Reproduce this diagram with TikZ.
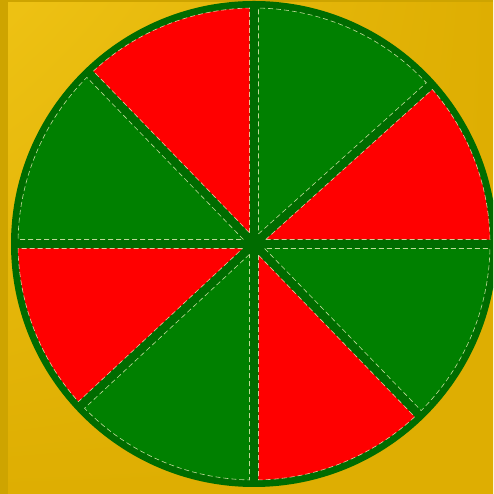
\documentclass[tikz,border=0pt]{standalone}
\usetikzlibrary{shadings}
\definecolor{goldlight}{RGB}{238,194,20}
\definecolor{golddeep}{RGB}{222,174,2}
\definecolor{goldedge}{RGB}{206,164,0}
\definecolor{ringgreen}{RGB}{0,108,0}
\definecolor{wedgegreen}{RGB}{0,128,0}
\definecolor{wedgered}{RGB}{255,0,0}
\tikzset{
  wedge/.style={fill=#1, draw=white!80!yellow, draw opacity=0.75, line width=0.6pt, dash pattern=on 5pt off 3pt}
}
\begin{document}
\begin{tikzpicture}[x=1pt, y=1pt]

        \useasboundingbox (0,0) rectangle (493,494);
        \clip (0,0) rectangle (493,494);

        % === Background ===
        \shade[upper left=goldlight, upper right=golddeep, lower left=golddeep, lower right=golddeep]
            (0,0) rectangle (493,494);
        \fill[goldedge] (0,0) rectangle (8,494);
        \fill[goldedge] (8,492) rectangle (493,494);

        % === Wheel, centre at (254,250) ===
        \begin{scope}[shift={(254,250)}]
            % dark green disk: rim and spokes
            \fill[ringgreen] (0,0) circle (243);

            % eight wedges, inset by half a spoke (4.5) from the spokes and the rim
            \foreach \a/\b/\col in {0/42/wedgered, 42/90/wedgegreen, 90/134/wedgered, 134/180/wedgegreen,
                                    180/223/wedgered, 223/270/wedgegreen, 270/314/wedgered, 314/360/wedgegreen}{
                \pgfmathsetmacro{\d}{4.5/sin((\b-\a)/2)}
                \pgfmathsetmacro{\e}{asin(4.5/236)}
                \draw[wedge=\col] ({(\a+\b)/2}:\d) -- ({\a+\e}:236)
                    arc[start angle=\a+\e, end angle=\b-\e, radius=236] -- cycle;
            }
        \end{scope}

    \end{tikzpicture}
\end{document}
